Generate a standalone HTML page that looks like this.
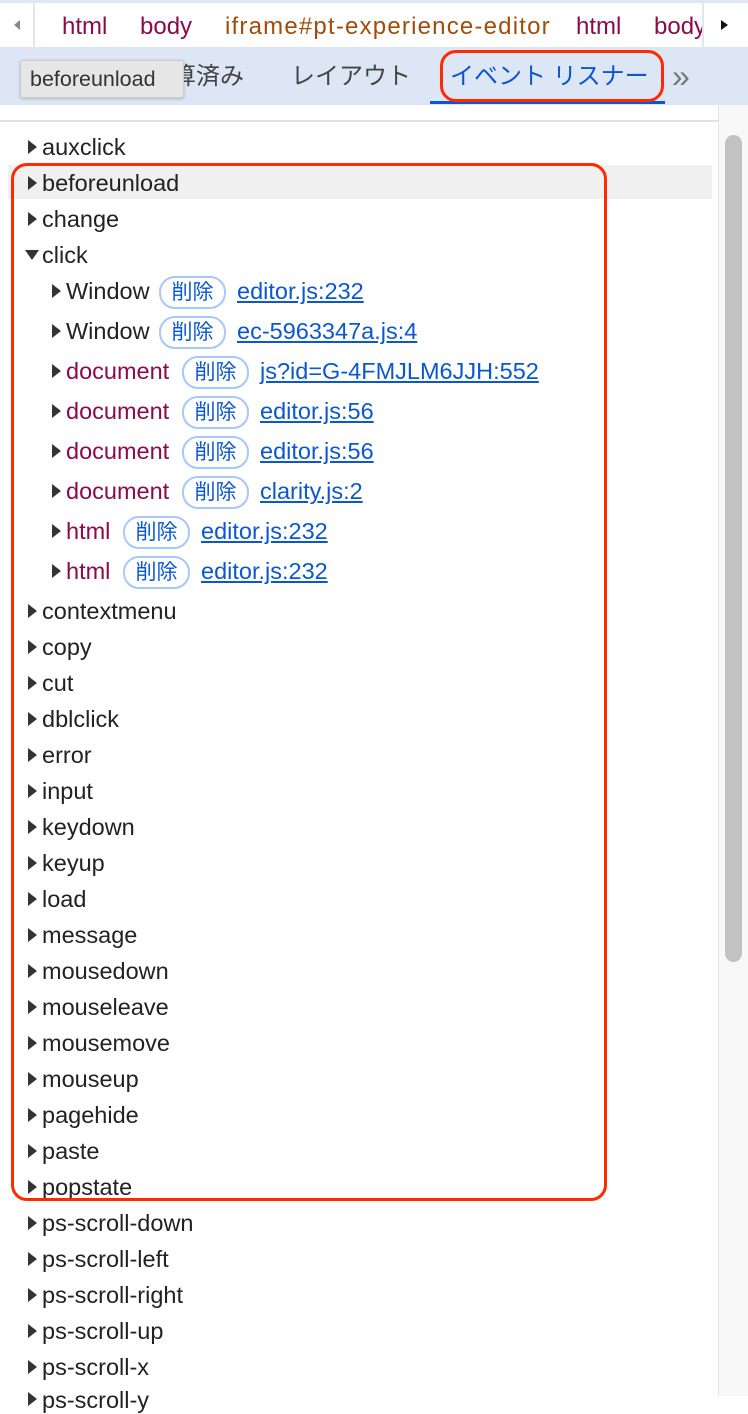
<!DOCTYPE html>
<html><head><meta charset="utf-8"><style>
body{margin:0;width:748px;height:1396px;overflow:hidden;background:#fff;font-family:"Liberation Sans","Noto Sans CJK JP",sans-serif;position:relative}
.a{position:absolute;white-space:nowrap}
.r{position:absolute;height:28px;line-height:28px;font-size:23.5px;color:#222;white-space:nowrap}
.t{position:absolute;width:0;height:0;border-top:7px solid transparent;border-bottom:7px solid transparent;border-left:9px solid #333}
.td{position:absolute;width:0;height:0;border-left:7px solid transparent;border-right:7px solid transparent;border-top:10px solid #333}
.b{position:absolute;height:33px;width:67px;border:2px solid #a8c7fa;border-radius:16px;box-sizing:border-box;color:#0b57d0;font-size:21px;line-height:30px;text-align:center}
.l{color:#0b57d0;text-decoration:underline}
.m{color:#8c0a4a}
.bc{position:absolute;top:13px;font-size:24px;line-height:28px}
</style></head><body>
<div class="a" style="left:0;top:0;width:748px;height:50px;background:#fff;border-top:3px solid #dfe7f4;border-bottom:3px solid #dfe7f4;box-sizing:border-box"></div>
<div class="bc m" style="left:62px">html</div>
<div class="bc m" style="left:140px">body</div>
<div class="bc" style="left:225px;color:#a34a0c;letter-spacing:1.2px">iframe#pt-experience-editor</div>
<div class="bc m" style="left:576px">html</div>
<div class="bc m" style="left:654px">body</div>
<div class="a" style="left:0;top:3px;width:33px;height:44px;background:#fff;border-right:2px solid #dfe7f4"></div>
<div class="a" style="left:14px;top:20px;width:0;height:0;border-top:5px solid transparent;border-bottom:5px solid transparent;border-right:6px solid #888"></div>
<div class="a" style="left:702px;top:3px;width:46px;height:44px;background:#fff;border-left:2px solid #dfe7f4"></div>
<div class="a" style="left:721px;top:20px;width:0;height:0;border-top:5px solid transparent;border-bottom:5px solid transparent;border-left:7px solid #111"></div>
<div class="a" style="left:0;top:50px;width:748px;height:55px;background:#dde6f4"></div>
<div class="a" style="left:172px;top:63px;font-size:24px;line-height:28px;color:#444">算済み</div>
<div class="a" style="left:291px;top:63px;font-size:24px;line-height:28px;color:#444">レイアウト</div>
<div class="a" style="left:450px;top:63px;font-size:24px;line-height:28px;color:#0b57d0">イベント リスナー</div>
<div class="a" style="left:430px;top:101px;width:235px;height:3px;background:#0b57d0"></div>
<div class="a" style="left:672px;top:58px;font-size:32px;line-height:36px;color:#777">»</div>
<div class="a" style="left:20px;top:60px;width:164px;height:38px;background:#e6e6e6;border:1px solid #ccc;box-sizing:border-box;border-radius:2px;box-shadow:0 1px 3px rgba(0,0,0,.2);font-size:21.5px;line-height:36px;color:#333;padding-left:9px">beforeunload</div>
<div class="a" style="left:0;top:120px;width:718px;height:2px;background:#d6e2f6"></div>
<div class="a" style="left:718px;top:105px;width:30px;height:1291px;background:#f8f8f8;border-left:1px solid #e6e6e6"></div>
<div class="a" style="left:725px;top:135px;width:17px;height:827px;background:#c2c2c2;border-radius:9px"></div>
<div class="a" style="left:8px;top:165px;width:704px;height:34px;background:#f0f0f0"></div>

<div class="t" style="left:28px;top:140px"></div><div class="r" style="left:42px;top:133px">auxclick</div>
<div class="t" style="left:28px;top:176px"></div><div class="r" style="left:42px;top:169px">beforeunload</div>
<div class="t" style="left:28px;top:212px"></div><div class="r" style="left:42px;top:205px">change</div>
<div class="td" style="left:25px;top:250px"></div><div class="r" style="left:42px;top:241px">click</div>

<div class="t" style="left:52px;top:284px"></div><div class="r" style="left:66px;top:277px">Window</div><div class="b" style="left:159px;top:276px">削除</div><div class="r l" style="left:237px;top:277px">editor.js:232</div>
<div class="t" style="left:52px;top:324px"></div><div class="r" style="left:66px;top:317px">Window</div><div class="b" style="left:159px;top:316px">削除</div><div class="r l" style="left:237px;top:317px">ec-5963347a.js:4</div>
<div class="t" style="left:52px;top:364px"></div><div class="r m" style="left:66px;top:357px">document</div><div class="b" style="left:182px;top:356px">削除</div><div class="r l" style="left:260px;top:357px">js?id=G-4FMJLM6JJH:552</div>
<div class="t" style="left:52px;top:404px"></div><div class="r m" style="left:66px;top:397px">document</div><div class="b" style="left:182px;top:396px">削除</div><div class="r l" style="left:260px;top:397px">editor.js:56</div>
<div class="t" style="left:52px;top:444px"></div><div class="r m" style="left:66px;top:437px">document</div><div class="b" style="left:182px;top:436px">削除</div><div class="r l" style="left:260px;top:437px">editor.js:56</div>
<div class="t" style="left:52px;top:484px"></div><div class="r m" style="left:66px;top:477px">document</div><div class="b" style="left:182px;top:476px">削除</div><div class="r l" style="left:260px;top:477px">clarity.js:2</div>
<div class="t" style="left:52px;top:524px"></div><div class="r m" style="left:66px;top:517px">html</div><div class="b" style="left:123px;top:516px">削除</div><div class="r l" style="left:201px;top:517px">editor.js:232</div>
<div class="t" style="left:52px;top:564px"></div><div class="r m" style="left:66px;top:557px">html</div><div class="b" style="left:123px;top:556px">削除</div><div class="r l" style="left:201px;top:557px">editor.js:232</div>

<div class="t" style="left:28px;top:604px"></div><div class="r" style="left:42px;top:597px">contextmenu</div>
<div class="t" style="left:28px;top:640px"></div><div class="r" style="left:42px;top:633px">copy</div>
<div class="t" style="left:28px;top:676px"></div><div class="r" style="left:42px;top:669px">cut</div>
<div class="t" style="left:28px;top:712px"></div><div class="r" style="left:42px;top:705px">dblclick</div>
<div class="t" style="left:28px;top:748px"></div><div class="r" style="left:42px;top:741px">error</div>
<div class="t" style="left:28px;top:784px"></div><div class="r" style="left:42px;top:777px">input</div>
<div class="t" style="left:28px;top:820px"></div><div class="r" style="left:42px;top:813px">keydown</div>
<div class="t" style="left:28px;top:856px"></div><div class="r" style="left:42px;top:849px">keyup</div>
<div class="t" style="left:28px;top:892px"></div><div class="r" style="left:42px;top:885px">load</div>
<div class="t" style="left:28px;top:928px"></div><div class="r" style="left:42px;top:921px">message</div>
<div class="t" style="left:28px;top:964px"></div><div class="r" style="left:42px;top:957px">mousedown</div>
<div class="t" style="left:28px;top:1000px"></div><div class="r" style="left:42px;top:993px">mouseleave</div>
<div class="t" style="left:28px;top:1036px"></div><div class="r" style="left:42px;top:1029px">mousemove</div>
<div class="t" style="left:28px;top:1072px"></div><div class="r" style="left:42px;top:1065px">mouseup</div>
<div class="t" style="left:28px;top:1108px"></div><div class="r" style="left:42px;top:1101px">pagehide</div>
<div class="t" style="left:28px;top:1144px"></div><div class="r" style="left:42px;top:1137px">paste</div>
<div class="t" style="left:28px;top:1180px"></div><div class="r" style="left:42px;top:1173px">popstate</div>
<div class="t" style="left:28px;top:1216px"></div><div class="r" style="left:42px;top:1209px">ps-scroll-down</div>
<div class="t" style="left:28px;top:1252px"></div><div class="r" style="left:42px;top:1245px">ps-scroll-left</div>
<div class="t" style="left:28px;top:1288px"></div><div class="r" style="left:42px;top:1281px">ps-scroll-right</div>
<div class="t" style="left:28px;top:1324px"></div><div class="r" style="left:42px;top:1317px">ps-scroll-up</div>
<div class="t" style="left:28px;top:1360px"></div><div class="r" style="left:42px;top:1353px">ps-scroll-x</div>
<div class="t" style="left:28px;top:1392px"></div><div class="r" style="left:42px;top:1386px">ps-scroll-y</div>

<div class="a" style="left:11px;top:163px;width:596px;height:1038px;border:3px solid #ff2a00;border-radius:16px;box-sizing:border-box"></div>
<div class="a" style="left:440px;top:50px;width:224px;height:52px;border:3px solid #ff2a00;border-radius:16px;box-sizing:border-box"></div>
</body></html>
